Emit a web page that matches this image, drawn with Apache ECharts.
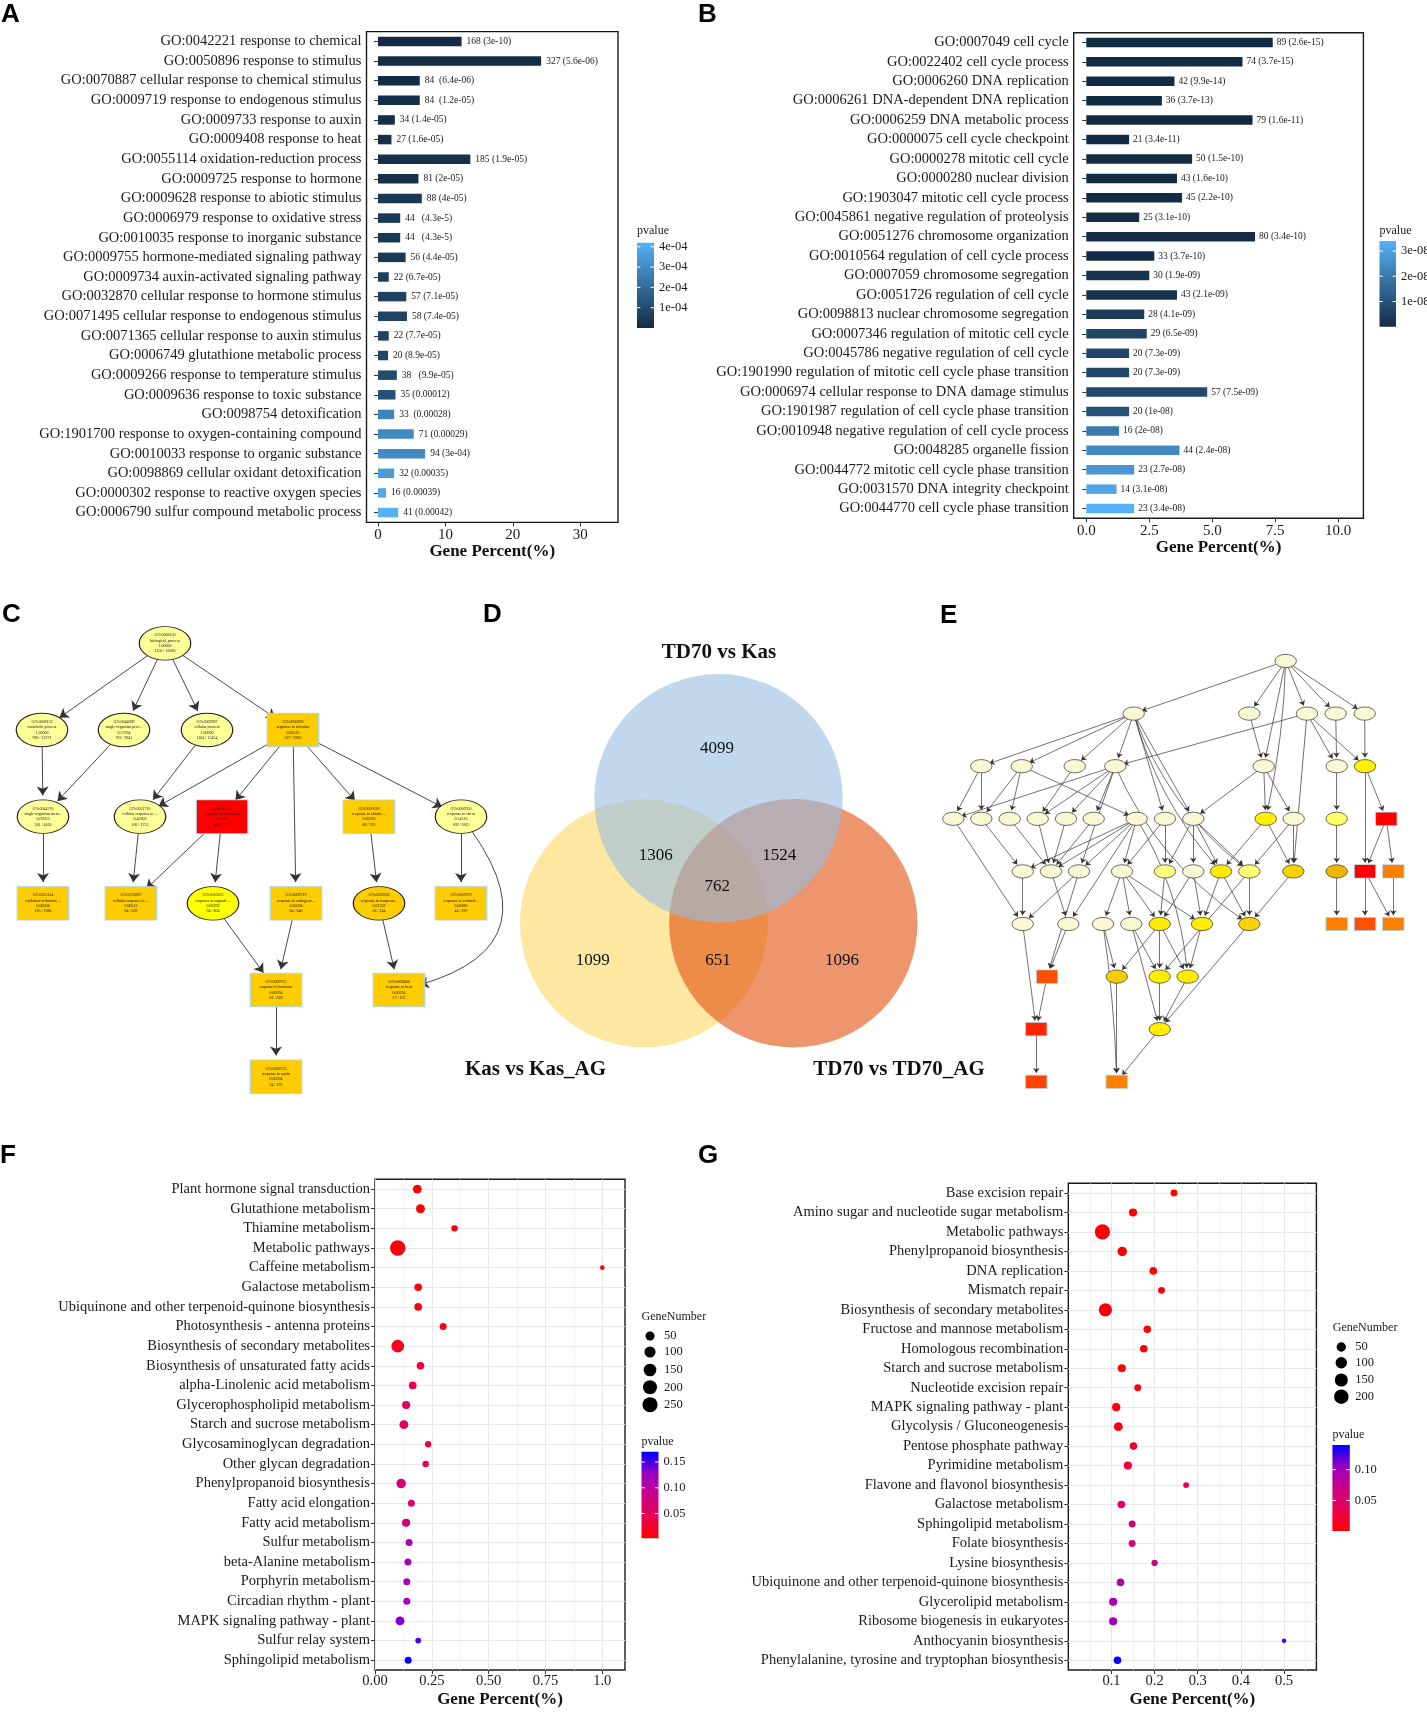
<!DOCTYPE html>
<html>
<head>
<meta charset="utf-8">
<script src="https://cdn.jsdelivr.net/npm/echarts@6/dist/echarts.min.js"></script>
<style>html,body{margin:0;padding:0;background:#fff}#chart{width:1427px;height:1712px}</style>
</head>
<body>
<div id="chart"></div>
<script>
const SERIF = "'Liberation Serif','Times New Roman',serif";
const SANS = "'Liberation Sans',Arial,sans-serif";

// ---------------- Panel A ----------------
const A_TERMS = [
'GO:0042221 response to chemical','GO:0050896 response to stimulus','GO:0070887 cellular response to chemical stimulus',
'GO:0009719 response to endogenous stimulus','GO:0009733 response to auxin','GO:0009408 response to heat',
'GO:0055114 oxidation-reduction process','GO:0009725 response to hormone','GO:0009628 response to abiotic stimulus',
'GO:0006979 response to oxidative stress','GO:0010035 response to inorganic substance','GO:0009755 hormone-mediated signaling pathway',
'GO:0009734 auxin-activated signaling pathway','GO:0032870 cellular response to hormone stimulus','GO:0071495 cellular response to endogenous stimulus',
'GO:0071365 cellular response to auxin stimulus','GO:0006749 glutathione metabolic process','GO:0009266 response to temperature stimulus',
'GO:0009636 response to toxic substance','GO:0098754 detoxification','GO:1901700 response to oxygen-containing compound',
'GO:0010033 response to organic substance','GO:0098869 cellular oxidant detoxification','GO:0000302 response to reactive oxygen species',
'GO:0006790 sulfur compound metabolic process'];
const A_PERCENT = [12.4,24.2,6.2,6.2,2.5,2.0,13.7,6.0,6.5,3.3,3.3,4.1,1.6,4.2,4.3,1.6,1.5,2.8,2.6,2.4,5.3,7.0,2.4,1.2,3.0];
const A_PVALUE = [3e-10,5.6e-06,6.4e-06,1.2e-05,1.4e-05,1.6e-05,1.9e-05,2e-05,4e-05,4.3e-05,4.3e-05,4.4e-05,6.7e-05,7.1e-05,7.4e-05,7.7e-05,8.9e-05,9.9e-05,0.00012,0.00028,0.00029,0.0003,0.00035,0.00039,0.00042];
const A_BAR_TEXT = ['168 (3e-10)','327 (5.6e-06)','84  (6.4e-06)','84  (1.2e-05)','34 (1.4e-05)','27 (1.6e-05)','185 (1.9e-05)','81 (2e-05)','88 (4e-05)','44   (4.3e-5)','44   (4.3e-5)','56 (4.4e-05)','22 (6.7e-05)','57 (7.1e-05)','58 (7.4e-05)','22 (7.7e-05)','20 (8.9e-05)','38   (9.9e-05)','35 (0.00012)','33  (0.00028)','71 (0.00029)','94 (3e-04)','32 (0.00035)','16 (0.00039)','41 (0.00042)'];
const A_XTICKS = [0,10,20,30];
const A_PV_TICKS = [1e-4,2e-4,3e-4,4e-4];
const A_PV_LABELS = ['1e-04','2e-04','3e-04','4e-04'];

// ---------------- Panel B ----------------
const B_TERMS = [
'GO:0007049 cell cycle','GO:0022402 cell cycle process','GO:0006260 DNA replication','GO:0006261 DNA-dependent DNA replication',
'GO:0006259 DNA metabolic process','GO:0000075 cell cycle checkpoint','GO:0000278 mitotic cell cycle','GO:0000280 nuclear division',
'GO:1903047 mitotic cell cycle process','GO:0045861 negative regulation of proteolysis','GO:0051276 chromosome organization',
'GO:0010564 regulation of cell cycle process','GO:0007059 chromosome segregation','GO:0051726 regulation of cell cycle',
'GO:0098813 nuclear chromosome segregation','GO:0007346 regulation of mitotic cell cycle','GO:0045786 negative regulation of cell cycle',
'GO:1901990 regulation of mitotic cell cycle phase transition','GO:0006974 cellular response to DNA damage stimulus',
'GO:1901987 regulation of cell cycle phase transition','GO:0010948 negative regulation of cell cycle process','GO:0048285 organelle fission',
'GO:0044772 mitotic cell cycle phase transition','GO:0031570 DNA integrity checkpoint','GO:0044770 cell cycle phase transition'];
const B_PERCENT = [7.4,6.2,3.5,3.0,6.6,1.7,4.2,3.6,3.8,2.1,6.7,2.7,2.5,3.6,2.3,2.4,1.7,1.7,4.8,1.7,1.3,3.7,1.9,1.2,1.9];
const B_PVALUE = [2.6e-15,3.7e-15,9.9e-14,3.7e-13,1.6e-11,3.4e-11,1.5e-10,1.6e-10,2.2e-10,3.1e-10,3.4e-10,3.7e-10,1.9e-09,2.1e-09,4.1e-09,6.5e-09,7.3e-09,7.3e-09,7.5e-09,1e-08,2e-08,2.4e-08,2.7e-08,3.1e-08,3.4e-08];
const B_BAR_TEXT = ['89 (2.6e-15)','74 (3.7e-15)','42 (9.9e-14)','36 (3.7e-13)','79 (1.6e-11)','21 (3.4e-11)','50 (1.5e-10)','43 (1.6e-10)','45 (2.2e-10)','25 (3.1e-10)','80 (3.4e-10)','33 (3.7e-10)','30 (1.9e-09)','43 (2.1e-09)','28 (4.1e-09)','29 (6.5e-09)','20 (7.3e-09)','20 (7.3e-09)','57 (7.5e-09)','20 (1e-08)','16 (2e-08)','44 (2.4e-08)','23 (2.7e-08)','14 (3.1e-08)','23 (3.4e-08)'];
const B_XTICKS = [0,2.5,5,7.5,10];
const B_XLABELS = ['0.0','2.5','5.0','7.5','10.0'];
const B_PV_TICKS = [1e-8,2e-8,3e-8];
const B_PV_LABELS = ['1e-08','2e-08','3e-08'];
const BAR_COLORS = ['#132B43','#56B1F7'];

// ---------------- Panel C (GO graph) ----------------
const C_IDS = ['GO:0008150','GO:0008152','GO:0044699','GO:0009987','GO:0050896','GO:0044710','GO:0051716','GO:0042221','GO:0009628','GO:0006950','GO:0055114','GO:0070887','GO:0010033','GO:0009719','GO:0009266','GO:0006979','GO:0009725','GO:0009408','GO:0009733'];
const C_TERMS = ['biological_process','metabolic process','single-organism proc...','cellular process','response to stimulus','single-organism meta...','cellular response to ...','response to chemical','response to abiotic ...','response to stress','oxidation-reduction ...','cellular response to ...','response to organic ...','response to endogeno...','response to temperat...','response to oxidativ...','response to hormone','response to heat','response to auxin'];
const C_SCORES = ['1.00000','1.00000','0.57294','1.00000','0.00512','0.07023','0.45903','7.1e-05','0.00030','0.54316','0.00594','0.00512','0.05293','0.00594','0.01328','0.00890','0.00594','0.00594','0.00594'];
const C_GENES = ['1350 / 16086','990 / 12271','762 / 9841','1104 / 13454','327 / 3285','381 / 4160','166 / 1751','168 / 1277','88 / 703','169 / 1815','185 / 1686','84 / 620','94 / 804','84 / 640','38 / 244','44 / 287','81 / 620','27 / 137','34 / 191'];
const C_X = [165,42,124,207,293,43,140,222,369,461,43,131,213,296,379,461,276,399,276];
const C_LEVEL = [0,1,1,1,1,2,2,2,2,2,3,3,3,3,3,3,4,4,5];
const C_RECT = [0,0,0,0,1,0,0,1,1,0,1,1,0,1,0,1,1,1,1];
const C_FILL = ['#FFFF99','#FFFF99','#FFFF99','#FFFF99','#FFCC00','#FFFF99','#FFFF99','#FF0000','#FFCC00','#FFFF99','#FFCC00','#FFCC00','#FFFF00','#FFCC00','#FFCC00','#FFCC00','#FFCC00','#FFCC00','#FFCC00'];
const C_EDGES = [[0,1],[0,2],[0,3],[0,4],[1,5],[2,5],[3,6],[4,6],[4,7],[4,13],[4,8],[4,9],[5,10],[6,11],[7,11],[7,12],[8,14],[9,15],[9,17,0.8],[12,16],[13,16],[14,17],[16,18]];

// ---------------- Panel D (Venn) ----------------
const VENN_SETS = ['TD70 vs Kas','Kas vs Kas_AG','TD70 vs TD70_AG'];
const VENN_CX = [238.5,164,313.3];
const VENN_CY = [178.3,303.3,303.3];
const VENN_R = [124.2,124,124.2];
const VENN_FILL = ['#96BCE3','#FDD761','#E1500D'];
const VENN_DRAW_ORDER = [1,2,0];
const VENN_SET_X = [239,55.5,419];
const VENN_SET_Y = [32.5,449.3,449.3];
const VENN_COUNTS = [4099,1306,1524,762,1099,651,1096];
const VENN_COUNT_X = [237,175.7,299.3,237.3,112.7,238,362];
const VENN_COUNT_Y = [129,235.7,235.7,266.7,341,341,341];

// ---------------- Panel E (GO graph) ----------------
const E_X = [365.7,
 213.7,329.3,387,415.7,444.7,
 61.3,101.7,154.7,195.3,343.7,416.7,445,
 33.3,61.3,89.7,117.7,146,173.7,216.7,245,273.3,345.7,373.7,416.7,466.3,
 102.7,131,159,202,245,273.3,301,329.3,373.3,416.7,445,473.3,
 102.7,148.3,183,211.3,239.7,282,329.3,416.7,445,473.3,
 127,196.7,239.7,267.7,
 116.3,239.7,
 116.3,196.7];
const E_LEVEL = [0,
 1,1,1,1,1,
 2,2,2,2,2,2,2,
 3,3,3,3,3,3,3,3,3,3,3,3,3,
 4,4,4,4,4,4,4,4,4,4,4,4,
 5,5,5,5,5,5,5,5,5,5,
 6,6,6,6,
 7,7,
 8,8];
const CR = '#FAF8D2';
const E_FILL = [CR,
 CR,CR,CR,CR,CR,
 CR,CR,CR,CR,CR,CR,'#FFF000',
 CR,CR,CR,CR,CR,CR,CR,CR,CR,'#FFF000',CR,'#FFFF66','#FF0000',
 CR,CR,CR,CR,'#FFFF80',CR,'#FFEC00','#FFFF70','#F8D200','#F0B400','#FF0000','#FF8000',
 CR,CR,CR,CR,'#FFEC00','#FFEC00','#F6D400','#FF7F00','#FF5000','#FF8000',
 '#FF5000','#F5CC00','#FFEC00','#FFEC00',
 '#FF2400','#FFEC00',
 '#FF4400','#FF8000'];
const E_RECT_NODES = [25,36,37,45,46,47,48,52,54,55];
const E_EDGES = [[0,1],[0,2],[0,3],[0,4],[0,5],[0,10],[0,22,0.05],
 [1,6],[1,7],[1,8],[1,9],[1,20],[1,21],[1,32,-0.12],[1,33,-0.15],
 [2,10],[3,9],[3,11],[3,12],[3,34],[4,11],[5,12],
 [6,13],[6,14],[7,14],[7,15],[7,19],[8,16],
 [9,13],[9,16],[9,17],[9,18],[9,28],[9,44,-0.15],
 [10,22],[10,23],[10,21],[11,24],[12,25],[12,36],
 [13,38],[14,26],[15,27],[16,27],[17,27],[18,27],
 [19,26],[19,27],[19,28],[19,29],[19,39],[19,51,0.12],
 [20,30],[20,29],[21,30],[21,31],[21,32],[21,33],
 [22,32],[22,34],[23,34],[23,33],[24,35],[25,36],[25,37],
 [26,38],[27,39],[28,38],[28,48],
 [29,40],[29,41],[29,42],[29,43],[30,42],[31,43],[31,42],
 [32,43],[32,44],[33,44],[33,50],[34,44],[35,45],[36,46],[36,47],[37,47],
 [38,52],[39,48],[40,49],[40,55,0.03],[41,50],[41,53],
 [42,49],[42,50],[42,51],[43,51],[44,53],
 [48,52],[49,55],[50,53],[51,53],[52,54],[53,55]];

// ---------------- Panel F (KEGG bubble) ----------------
const F_PATHWAYS = ['Plant hormone signal transduction','Glutathione metabolism','Thiamine metabolism','Metabolic pathways','Caffeine metabolism','Galactose metabolism','Ubiquinone and other terpenoid-quinone biosynthesis','Photosynthesis - antenna proteins','Biosynthesis of secondary metabolites','Biosynthesis of unsaturated fatty acids','alpha-Linolenic acid metabolism','Glycerophospholipid metabolism','Starch and sucrose metabolism','Glycosaminoglycan degradation','Other glycan degradation','Phenylpropanoid biosynthesis','Fatty acid elongation','Fatty acid metabolism','Sulfur metabolism','beta-Alanine metabolism','Porphyrin metabolism','Circadian rhythm - plant','MAPK signaling pathway - plant','Sulfur relay system','Sphingolipid metabolism'];
const F_PERCENT = [0.186,0.20,0.35,0.10,1.0,0.19,0.19,0.30,0.10,0.20,0.166,0.137,0.127,0.234,0.223,0.115,0.16,0.137,0.15,0.145,0.14,0.14,0.11,0.19,0.146];
const F_GENES = [46,46,12,270,5,26,26,18,150,26,26,34,46,12,12,59,18,34,18,18,18,18,46,8,18];
const F_PVALUE = [0.002,0.003,0.005,0.006,0.008,0.01,0.012,0.014,0.018,0.03,0.045,0.06,0.055,0.04,0.045,0.075,0.065,0.07,0.115,0.115,0.12,0.12,0.135,0.15,0.17];
const F_XTICKS = [0,0.25,0.5,0.75,1.0];
const F_XLABELS = ['0.00','0.25','0.50','0.75','1.0'];
const F_SIZE_LEGEND = [50,100,150,200,250];
const F_PV_TICKS = [0.05,0.10,0.15];
const F_PV_LABELS = ['0.05','0.10','0.15'];

// ---------------- Panel G (KEGG bubble) ----------------
const G_PATHWAYS = ['Base excision repair','Amino sugar and nucleotide sugar metabolism','Metabolic pathways','Phenylpropanoid biosynthesis','DNA replication','Mismatch repair','Biosynthesis of secondary metabolites','Fructose and mannose metabolism','Homologous recombination','Starch and sucrose metabolism','Nucleotide excision repair','MAPK signaling pathway - plant','Glycolysis / Gluconeogenesis','Pentose phosphate pathway','Pyrimidine metabolism','Flavone and flavonol biosynthesis','Galactose metabolism','Sphingolipid metabolism','Folate biosynthesis','Lysine biosynthesis','Ubiquinone and other terpenoid-quinone biosynthesis','Glycerolipid metabolism','Ribosome biogenesis in eukaryotes','Anthocyanin biosynthesis','Phenylalanine, tyrosine and tryptophan biosynthesis'];
const G_PERCENT = [0.245,0.15,0.079,0.125,0.197,0.216,0.086,0.183,0.175,0.124,0.161,0.111,0.116,0.151,0.138,0.273,0.123,0.148,0.148,0.2,0.121,0.104,0.104,0.5,0.114];
const G_GENES = [16,31,230,54,23,16,156,23,23,31,16,31,41,23,31,8,23,16,16,11,23,31,31,5,23];
const G_PVALUE = [0.0005,0.001,0.0015,0.002,0.0025,0.003,0.0035,0.004,0.005,0.006,0.007,0.008,0.01,0.02,0.025,0.033,0.05,0.06,0.062,0.07,0.085,0.098,0.1,0.12,0.14];
const G_XTICKS = [0.1,0.2,0.3,0.4,0.5];
const G_XLABELS = ['0.1','0.2','0.3','0.4','0.5'];
const G_SIZE_LEGEND = [50,100,150,200];
const G_PV_TICKS = [0.05,0.10];
const G_PV_LABELS = ['0.05','0.10'];
const PV_COLORS = ['#FF0000','#E80050','#CA0089','#9A00C2','#0000FF'];

// ---------------- helpers ----------------
const ELLIPSE = 'path://M0,50A50,50,0,1,1,100,50A50,50,0,1,1,0,50Z';
const minOf = a => Math.min.apply(null, a);
const maxOf = a => Math.max.apply(null, a);
function sizeScale(arr, dmin, dmax) {
  const lo = minOf(arr), hi = maxOf(arr);
  return n => dmin + (dmax - dmin) * Math.sqrt(Math.max(0, (n - lo) / (hi - lo)));
}
const sizeF = sizeScale(F_GENES, 4.6, 15.5);
const sizeG = sizeScale(G_GENES, 4.6, 15.2);
function lookup(ticks, labels) {
  return v => { for (let i = 0; i < ticks.length; i++) if (Math.abs(ticks[i] - v) < 1e-9) return labels[i]; return ''; };
}
function txt(x, y, text, font, align, valign, fill) {
  return {type:'text', x:x, y:y, silent:true,
    style:{text:text, font:font, fill:fill || '#1a1a1a', align:align, verticalAlign:valign, textAlign:align, textVerticalAlign:valign}};
}
function colorbar(c) {
  const els = [];
  els.push(txt(c.x, c.y - c.titleGap, c.title, '12px ' + SERIF, 'left', 'middle'));
  const stops = c.colors.map((col, i) => ({offset: i / (c.colors.length - 1), color: col}));
  els.push({type:'rect', silent:true, shape:{x:c.x, y:c.y, width:c.w, height:c.h},
    style:{fill: new echarts.graphic.LinearGradient(0, 1, 0, 0, stops)}});
  c.ticks.forEach((t, i) => {
    const ty = c.y + c.h - (t - c.min) / (c.max - c.min) * c.h;
    els.push({type:'line', silent:true, shape:{x1:c.x, y1:ty, x2:c.x + c.w * 0.2, y2:ty}, style:{stroke:'#fff', lineWidth:1}});
    els.push({type:'line', silent:true, shape:{x1:c.x + c.w * 0.8, y1:ty, x2:c.x + c.w, y2:ty}, style:{stroke:'#fff', lineWidth:1}});
    els.push(txt(c.x + c.w + 5, ty, c.labels[i], '12.5px ' + SERIF, 'left', 'middle'));
  });
  return els;
}
function sizeLegend(c) {
  const els = [txt(c.x - 8.5, c.titleY, 'GeneNumber', '12px ' + SERIF, 'left', 'middle')];
  c.values.forEach((v, i) => {
    els.push({type:'circle', silent:true, shape:{cx:c.x, cy:c.ys[i], r:c.size(v) / 2}, style:{fill:'#000'}});
    els.push(txt(c.x + 14, c.ys[i], String(v), '12.5px ' + SERIF, 'left', 'middle'));
  });
  return els;
}

// ---------------- axes ----------------
function catAxis(gi, data) {
  return {type:'category', gridIndex:gi, data:data, inverse:true,
    axisLine:{show:false},
    axisTick:{show:true, alignWithLabel:true, interval:0, length:4, lineStyle:{color:'#333', width:1}},
    axisLabel:{interval:0, fontFamily:SERIF, fontSize:14.5, color:'#1a1a1a', margin:5},
    splitLine:{show:false}};
}
const AXIS_TITLE = {fontFamily:SERIF, fontWeight:'bold', fontSize:17, color:'#111'};
function hiddenAxis(gi, min, max, inverse) {
  return {type:'value', gridIndex:gi, min:min, max:max, inverse:!!inverse, show:false,
    axisLine:{show:false}, axisTick:{show:false}, axisLabel:{show:false}, splitLine:{show:false}};
}
function gridLines(xi, cats) {
  return {type:'line', xAxisIndex:xi, yAxisIndex:xi, data:[], z:1, silent:true,
    markLine:{silent:true, z:1, symbol:['none','none'], label:{show:false}, animation:false,
      lineStyle:{color:'#E8E8E8', width:1, type:'solid'}, emphasis:{disabled:true},
      data:cats.map((p, i) => ({yAxis:i}))}};
}

const frame = {show:true, borderColor:'#1a1a1a', borderWidth:1.4, backgroundColor:'rgba(0,0,0,0)', outerBoundsMode:'none', containLabel:false};
const plain = {show:false, outerBoundsMode:'none', containLabel:false};

const option = {
  animation:false,
  backgroundColor:'#ffffff',
  textStyle:{fontFamily:SERIF},
  grid:[
    Object.assign({left:366.5, top:31.6, width:251.5, height:490.8}, frame),
    Object.assign({left:1073.7, top:32.7, width:289.7, height:485.6}, frame),
    Object.assign({left:0, top:600, width:480, height:520}, plain),
    Object.assign({left:480, top:620, width:480, height:480}, plain),
    Object.assign({left:920, top:634.7, width:507, height:473.4}, plain),
    Object.assign({left:375, top:1179.3, width:250, height:490.7}, frame),
    Object.assign({left:1068.3, top:1183.3, width:248.1, height:486.7}, frame)
  ],
  xAxis:[
    {type:'value', gridIndex:0, min:-1.7, max:35.6, axisLine:{show:false}, splitLine:{show:false},
     axisTick:{show:true, length:4, customValues:A_XTICKS, lineStyle:{color:'#333'}},
     axisLabel:{customValues:A_XTICKS, fontFamily:SERIF, fontSize:15, color:'#1a1a1a', margin:5},
     name:'Gene Percent(%)', nameLocation:'middle', nameGap:21, nameTextStyle:AXIS_TITLE},
    {type:'value', gridIndex:1, min:-0.5, max:11.0, axisLine:{show:false}, splitLine:{show:false},
     axisTick:{show:true, length:4, customValues:B_XTICKS, lineStyle:{color:'#333'}},
     axisLabel:{customValues:B_XTICKS, formatter:lookup(B_XTICKS, B_XLABELS), fontFamily:SERIF, fontSize:15, color:'#1a1a1a', margin:5},
     name:'Gene Percent(%)', nameLocation:'middle', nameGap:21, nameTextStyle:AXIS_TITLE},
    hiddenAxis(2, 0, 480),
    hiddenAxis(3, 0, 480),
    hiddenAxis(4, 0, 507),
    {type:'value', gridIndex:5, min:0, max:1.1, interval:0.25, axisLine:{show:false},
     axisTick:{show:true, length:4, customValues:F_XTICKS, lineStyle:{color:'#333'}},
     axisLabel:{customValues:F_XTICKS, formatter:lookup(F_XTICKS, F_XLABELS), fontFamily:SERIF, fontSize:14.5, color:'#1a1a1a', margin:4},
     splitLine:{show:true, lineStyle:{color:'#E8E8E8', width:1}},
     minorTick:{show:false, splitNumber:2}, minorSplitLine:{show:true, lineStyle:{color:'#F0F0F0', width:0.8}},
     name:'Gene Percent(%)', nameLocation:'middle', nameGap:21, nameTextStyle:AXIS_TITLE},
    {type:'value', gridIndex:6, min:0, max:0.575, interval:0.1, axisLine:{show:false},
     axisTick:{show:true, length:4, customValues:G_XTICKS, lineStyle:{color:'#333'}},
     axisLabel:{customValues:G_XTICKS, formatter:lookup(G_XTICKS, G_XLABELS), fontFamily:SERIF, fontSize:14.5, color:'#1a1a1a', margin:4},
     splitLine:{show:true, lineStyle:{color:'#E8E8E8', width:1}},
     minorTick:{show:false, splitNumber:2}, minorSplitLine:{show:true, lineStyle:{color:'#F0F0F0', width:0.8}},
     name:'Gene Percent(%)', nameLocation:'middle', nameGap:21, nameTextStyle:AXIS_TITLE}
  ],
  yAxis:[
    catAxis(0, A_TERMS),
    catAxis(1, B_TERMS),
    hiddenAxis(2, -0.5, 5.5, true),
    hiddenAxis(3, 0, 480, true),
    hiddenAxis(4, -0.5, 8.5, true),
    catAxis(5, F_PATHWAYS),
    catAxis(6, G_PATHWAYS)
  ],
  visualMap:[
    {type:'continuous', show:false, seriesIndex:0, dimension:2, min:minOf(A_PVALUE), max:maxOf(A_PVALUE), inRange:{color:BAR_COLORS}},
    {type:'continuous', show:false, seriesIndex:1, dimension:2, min:minOf(B_PVALUE), max:maxOf(B_PVALUE), inRange:{color:BAR_COLORS}},
    {type:'continuous', show:false, seriesIndex:8, dimension:2, min:minOf(F_PVALUE), max:maxOf(F_PVALUE), inRange:{color:PV_COLORS}},
    {type:'continuous', show:false, seriesIndex:10, dimension:2, min:minOf(G_PVALUE), max:maxOf(G_PVALUE), inRange:{color:PV_COLORS}}
  ],
  series:[
    {type:'bar', xAxisIndex:0, yAxisIndex:0, barWidth:9.5, encode:{x:0, y:1},
     data:A_TERMS.map((t, i) => [A_PERCENT[i], i, A_PVALUE[i]]),
     label:{show:true, position:'right', distance:5, formatter:p => A_BAR_TEXT[p.dataIndex], fontFamily:SERIF, fontSize:9.5, color:'#1a1a1a'}},
    {type:'bar', xAxisIndex:1, yAxisIndex:1, barWidth:9.5, encode:{x:0, y:1},
     data:B_TERMS.map((t, i) => [B_PERCENT[i], i, B_PVALUE[i]]),
     label:{show:true, position:'right', distance:4, formatter:p => B_BAR_TEXT[p.dataIndex], fontFamily:SERIF, fontSize:9.5, color:'#1a1a1a'}},
    {type:'graph', coordinateSystem:'cartesian2d', xAxisIndex:2, yAxisIndex:2, silent:true,
     edgeSymbol:['none','arrow'], edgeSymbolSize:[0,9],
     lineStyle:{color:'#333', width:0.9, opacity:1},
     data:C_IDS.map((id, i) => ({
       name:id, value:[C_X[i], C_LEVEL[i]],
       symbol:C_RECT[i] ? 'rect' : ELLIPSE, symbolSize:[51.5, 33.5],
       itemStyle:{color:C_FILL[i], borderColor:C_RECT[i] ? '#A8D8EA' : '#222', borderWidth:1},
       label:{show:true, position:'inside', formatter:[id, C_TERMS[i], C_SCORES[i], C_GENES[i]].join('\n'),
              fontSize:4, lineHeight:5.3, color:'#111', fontFamily:SERIF}
     })),
     links:C_EDGES.map(e => ({source:e[0], target:e[1], lineStyle:{curveness:e[2] || 0}}))},
    {type:'custom', xAxisIndex:3, yAxisIndex:3, silent:true,
     data:VENN_DRAW_ORDER.map(k => [VENN_CX[k], VENN_CY[k], VENN_R[k], k]),
     renderItem:function(params, api) {
       const p = api.coord([api.value(0), api.value(1)]);
       const s = api.size([api.value(2), api.value(2)]);
       return {type:'circle', shape:{cx:p[0], cy:p[1], r:s[0]}, style:{fill:VENN_FILL[api.value(3)], opacity:0.6}};
     }},
    {type:'custom', xAxisIndex:3, yAxisIndex:3, silent:true, z:5,
     data:VENN_COUNTS.map((c, i) => [VENN_COUNT_X[i], VENN_COUNT_Y[i]]),
     renderItem:function(params, api) {
       const p = api.coord([api.value(0), api.value(1)]);
       return {type:'text', x:p[0], y:p[1], style:{text:String(VENN_COUNTS[params.dataIndex]), font:'17px ' + SERIF, fill:'#111',
         align:'center', verticalAlign:'middle', textAlign:'center', textVerticalAlign:'middle'}};
     }},
    {type:'custom', xAxisIndex:3, yAxisIndex:3, silent:true, z:5,
     data:VENN_SETS.map((s, i) => [VENN_SET_X[i], VENN_SET_Y[i]]),
     renderItem:function(params, api) {
       const p = api.coord([api.value(0), api.value(1)]);
       return {type:'text', x:p[0], y:p[1], style:{text:VENN_SETS[params.dataIndex], font:'bold 21px ' + SERIF, fill:'#111',
         align:'center', verticalAlign:'middle', textAlign:'center', textVerticalAlign:'middle'}};
     }},
    {type:'graph', coordinateSystem:'cartesian2d', xAxisIndex:4, yAxisIndex:4, silent:true,
     edgeSymbol:['none','arrow'], edgeSymbolSize:[0,5],
     lineStyle:{color:'#333', width:0.7, opacity:1},
     data:E_X.map((x, i) => {
       const rect = E_RECT_NODES.indexOf(i) >= 0;
       return {name:'n' + i, value:[x, E_LEVEL[i]], symbol:rect ? 'rect' : ELLIPSE, symbolSize:[21.5, 13.3],
         itemStyle:{color:E_FILL[i], borderColor:rect ? '#A8D8EA' : '#333', borderWidth:rect ? 0.8 : 0.7},
         label:{show:false}};
     }),
     links:E_EDGES.map(e => ({source:e[0], target:e[1], lineStyle:{curveness:e[2] || 0}}))},
    gridLines(5, F_PATHWAYS),
    {type:'scatter', xAxisIndex:5, yAxisIndex:5, z:3, encode:{x:0, y:1},
     data:F_PATHWAYS.map((p, i) => [F_PERCENT[i], i, F_PVALUE[i], F_GENES[i]]),
     symbol:'circle', symbolSize:v => sizeF(v[3]), itemStyle:{opacity:1}},
    gridLines(6, G_PATHWAYS),
    {type:'scatter', xAxisIndex:6, yAxisIndex:6, z:3, encode:{x:0, y:1},
     data:G_PATHWAYS.map((p, i) => [G_PERCENT[i], i, G_PVALUE[i], G_GENES[i]]),
     symbol:'circle', symbolSize:v => sizeG(v[3]), itemStyle:{opacity:1}}
  ],
  graphic:{elements:[].concat(
    [txt(1, 2, 'A', 'bold 26px ' + SANS, 'left', 'top', '#000'),
     txt(698, 2, 'B', 'bold 26px ' + SANS, 'left', 'top', '#000'),
     txt(2, 602, 'C', 'bold 26px ' + SANS, 'left', 'top', '#000'),
     txt(483, 602, 'D', 'bold 26px ' + SANS, 'left', 'top', '#000'),
     txt(940, 603, 'E', 'bold 26px ' + SANS, 'left', 'top', '#000'),
     txt(0, 1143, 'F', 'bold 26px ' + SANS, 'left', 'top', '#000'),
     txt(698, 1143, 'G', 'bold 26px ' + SANS, 'left', 'top', '#000')],
    colorbar({x:637, y:242.7, w:17, h:85.3, colors:BAR_COLORS, min:minOf(A_PVALUE), max:maxOf(A_PVALUE), ticks:A_PV_TICKS, labels:A_PV_LABELS, title:'pvalue', titleGap:11.5}),
    colorbar({x:1379.5, y:241, w:16.5, h:85.7, colors:BAR_COLORS, min:minOf(B_PVALUE), max:maxOf(B_PVALUE), ticks:B_PV_TICKS, labels:B_PV_LABELS, title:'pvalue', titleGap:10}),
    colorbar({x:641.5, y:1451.7, w:17, h:86.6, colors:PV_COLORS, min:minOf(F_PVALUE), max:maxOf(F_PVALUE), ticks:F_PV_TICKS, labels:F_PV_LABELS, title:'pvalue', titleGap:10}),
    colorbar({x:1332.4, y:1445, w:17.4, h:86, colors:PV_COLORS, min:minOf(G_PVALUE), max:maxOf(G_PVALUE), ticks:G_PV_TICKS, labels:G_PV_LABELS, title:'pvalue', titleGap:10}),
    sizeLegend({x:650, titleY:1316.7, ys:[1336,1352,1370,1387.3,1404.7], values:F_SIZE_LEGEND, size:sizeF}),
    sizeLegend({x:1341.3, titleY:1328.3, ys:[1347,1362.7,1380,1396.7], values:G_SIZE_LEGEND, size:sizeG})
  )}
};

const chart = echarts.init(document.getElementById('chart'), null, {renderer:'canvas', width:1427, height:1712});
chart.setOption(option);
</script>
</body>
</html>
